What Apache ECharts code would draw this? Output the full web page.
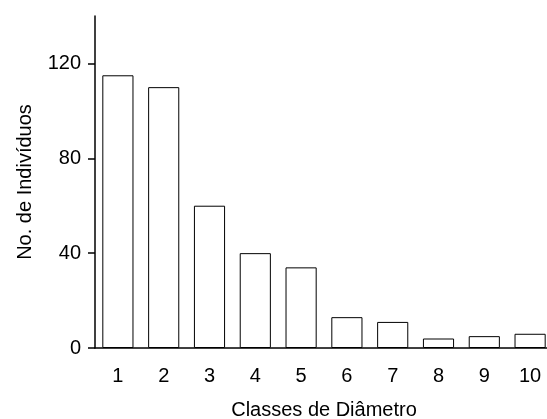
<!DOCTYPE html>
<html>
<head>
<meta charset="utf-8">
<script src="https://cdn.jsdelivr.net/npm/echarts@6/dist/echarts.min.js"></script>
<style>
  html, body { margin: 0; padding: 0; background: #fff; }
  #chart { width: 547px; height: 419px; }
</style>
</head>
<body>
<div id="chart"></div>
<script>
  var classes = ["1", "2", "3", "4", "5", "6", "7", "8", "9", "10"];
  var individuos = [115, 110, 60, 40, 34, 13, 11, 4, 5, 6];
  var yTicks = [0, 40, 80, 120];

  function drawChart() {
    var chartDom = document.getElementById("chart");
    var myChart = echarts.init(chartDom, null, { renderer: "canvas" });
    var font = "Liberation Sans";
    var option = {
      animation: false,
      grid: { left: 95, width: 458, top: 16, bottom: 71, containLabel: false, outerBoundsMode: "none" },
      xAxis: {
        type: "category",
        data: classes,
        name: "Classes de Diâmetro",
        nameLocation: "middle",
        nameGap: 52,
        nameTextStyle: { fontFamily: font, fontSize: 20, color: "#000" },
        axisLine: { lineStyle: { color: "#000", width: 1.5 } },
        axisTick: { show: false },
        axisLabel: { fontFamily: font, fontSize: 20, color: "#000", margin: 18, interval: 0 }
      },
      yAxis: {
        type: "value",
        min: 0,
        max: 140,
        interval: 40,
        name: "No. de Indivíduos",
        nameLocation: "middle",
        nameGap: 60,
        nameTextStyle: { fontFamily: font, fontSize: 20, color: "#000" },
        splitLine: { show: false },
        axisLine: { show: true, lineStyle: { color: "#000", width: 1.5 } },
        axisTick: { show: true, length: 7, customValues: yTicks, lineStyle: { color: "#000", width: 1.5 } },
        axisLabel: { fontFamily: font, fontSize: 20, color: "#000", margin: 14, customValues: yTicks }
      },
      series: [
        {
          type: "bar",
          data: individuos,
          barWidth: "68%",
          itemStyle: { color: "#fff", borderColor: "#000", borderWidth: 1 }
        }
      ]
    };
    option && myChart.setOption(option);
  }

  drawChart();
</script>
</body>
</html>
